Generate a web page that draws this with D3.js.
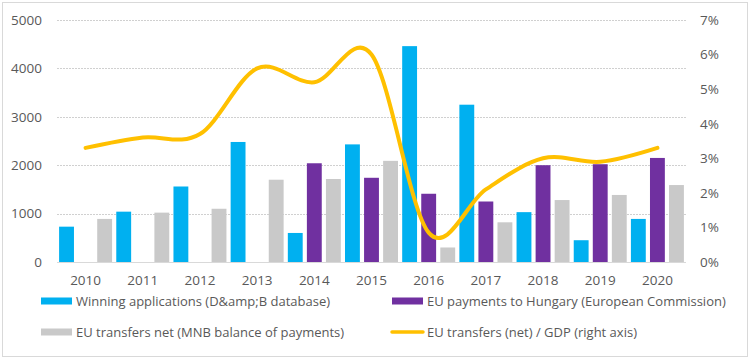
<!DOCTYPE html>
<html>
<head>
<meta charset="utf-8">
<script src="https://cdn.jsdelivr.net/npm/d3@7/dist/d3.min.js"></script>
<style>
  html, body { margin: 0; padding: 0; background: #fff; }
  svg { display: block; }
  text { font-family: "Open Sans", sans-serif; fill: #595959; }
</style>
</head>
<body>
<svg id="chart" width="750" height="360"></svg>
<script>
const years = ["2010","2011","2012","2013","2014","2015","2016","2017","2018","2019","2020"];
const winningApplications = [730, 1040, 1560, 2480, 600, 2430, 4460, 3250, 1030, 450, 890];
const euPayments = [null, null, null, null, 2040, 1740, 1410, 1250, 2000, 2020, 2150];
const euTransfersNet = [890, 1020, 1100, 1700, 1715, 2090, 300, 820, 1280, 1385, 1590];
const transfersGdp = [3.3, 3.6, 3.7, 5.6, 5.2, 6.0, 0.85, 2.1, 3.0, 2.9, 3.3];
const leftTicks = [0, 1000, 2000, 3000, 4000, 5000];
const rightTicks = [0, 1, 2, 3, 4, 5, 6, 7];
const seriesNames = ["Winning applications (D&amp;B database)", "EU payments to Hungary (European Commission)", "EU transfers net (MNB balance of payments)", "EU transfers (net) / GDP (right axis)"];

const colors = { blue: "#00B0F0", purple: "#7030A0", gray: "#C9C9C9", yellow: "#FFC000" };

const svg = d3.select("#chart");
const plot = { left: 57, right: 686, top: 20, bottom: 262 };

// outer border
svg.append("rect").attr("x", 2.5).attr("y", 2.5).attr("width", 745).attr("height", 354)
  .attr("fill", "none").attr("stroke", "#d9d9d9").attr("stroke-width", 1);

const x = d3.scaleBand().domain(years).range([plot.left, plot.right]).padding(0);
const series = ["win", "pay", "net"];
const xs = d3.scaleBand().domain(series).range([0, x.bandwidth()]).paddingInner(0.22).paddingOuter(0.11);
const y = d3.scaleLinear().domain([0, 5000]).range([plot.bottom, plot.top]);
const y2 = d3.scaleLinear().domain([0, 7]).range([plot.bottom, plot.top]);

// gridlines
const grid = svg.append("g");
grid.selectAll("line").data(leftTicks.filter(d => d > 0)).join("line")
  .attr("x1", plot.left).attr("x2", plot.right)
  .attr("y1", d => Math.round(y(d)) + 0.5).attr("y2", d => Math.round(y(d)) + 0.5)
  .attr("stroke", "#d0d0d0").attr("stroke-width", 1).attr("stroke-dasharray", "2,1");

// left axis
const yAxis = d3.axisLeft(y).tickValues(leftTicks).tickSize(0).tickPadding(0).tickFormat(d3.format("d"));
const gL = svg.append("g").attr("transform", `translate(42,0)`).call(yAxis);
gL.select(".domain").remove();
gL.selectAll("text").attr("font-size", 13.5).style("font-family", "'Open Sans', sans-serif").attr("fill", "#595959");

// right axis
const y2Axis = d3.axisRight(y2).tickValues(rightTicks).tickSize(0).tickPadding(0).tickFormat(d => d + "%");
const gR = svg.append("g").attr("transform", `translate(700,0)`).call(y2Axis);
gR.select(".domain").remove();
gR.selectAll("text").attr("font-size", 13.5).style("font-family", "'Open Sans', sans-serif").attr("fill", "#595959");

// bars
const barData = [];
years.forEach((yr, i) => {
  barData.push({ yr, s: "win", v: winningApplications[i], c: colors.blue });
  barData.push({ yr, s: "pay", v: euPayments[i], c: colors.purple });
  barData.push({ yr, s: "net", v: euTransfersNet[i], c: colors.gray });
});
svg.append("g").selectAll("rect").data(barData.filter(d => d.v != null)).join("rect")
  .attr("x", d => x(d.yr) + xs(d.s))
  .attr("width", xs.bandwidth())
  .attr("y", d => y(d.v))
  .attr("height", d => y(0) - y(d.v))
  .attr("fill", d => d.c);

// baseline
svg.append("line").attr("x1", plot.left).attr("x2", plot.right)
  .attr("y1", plot.bottom + 0.5).attr("y2", plot.bottom + 0.5)
  .attr("stroke", "#d9d9d9").attr("stroke-width", 1);

// x axis labels
const xAxis = d3.axisBottom(x).tickSize(0).tickPadding(0);
const gX = svg.append("g").attr("transform", `translate(0,275)`).call(xAxis);
gX.select(".domain").remove();
gX.selectAll("text").attr("font-size", 13.5).style("font-family", "'Open Sans', sans-serif").attr("fill", "#595959");

// line
const line = d3.line()
  .x((d, i) => x(years[i]) + x.bandwidth() / 2)
  .y(d => y2(d))
  .curve(d3.curveCardinal.tension(0));
svg.append("path").datum(transfersGdp).attr("d", line)
  .attr("fill", "none").attr("stroke", colors.yellow).attr("stroke-width", 4).attr("stroke-linecap", "round");

// legend
const legend = svg.append("g");
const items = [
  { name: seriesNames[0], type: "bar", c: colors.blue, x: 41, y: 301 },
  { name: seriesNames[1], type: "bar", c: colors.purple, x: 392, y: 301 },
  { name: seriesNames[2], type: "bar", c: colors.gray, x: 41, y: 332 },
  { name: seriesNames[3], type: "line", c: colors.yellow, x: 392, y: 332 }
];
items.forEach(it => {
  if (it.type === "bar") {
    legend.append("rect").attr("x", it.x).attr("y", it.y - 3.5).attr("width", 31).attr("height", 7).attr("fill", it.c);
  } else {
    legend.append("line").attr("x1", it.x).attr("x2", it.x + 31).attr("y1", it.y).attr("y2", it.y)
      .attr("stroke", it.c).attr("stroke-width", 3.5).attr("stroke-linecap", "round");
  }
  legend.append("text").attr("x", it.x + 35).attr("y", it.y).attr("dy", "0.35em")
    .attr("font-size", 13).text(it.name);
});
</script>
</body>
</html>
